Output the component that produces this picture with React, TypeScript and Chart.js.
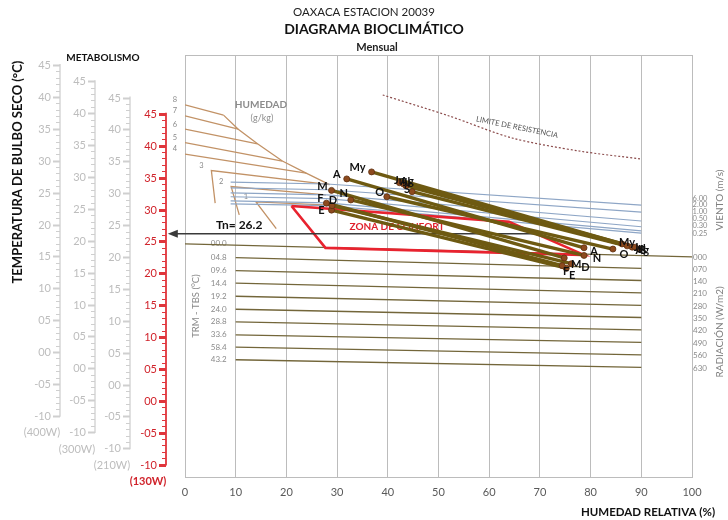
import React, { useEffect, useRef } from 'react';
import { Chart, registerables } from 'chart.js';
Chart.register(...registerables);

// ---------- DATA ----------
const MONTHS = ['E', 'F', 'M', 'A', 'My', 'Jn', 'Jl', 'Ag', 'S', 'O', 'N', 'D'];
const T_MAX = [29.9, 31.0, 33.0, 34.8, 35.9, 34.2, 34.0, 33.7, 32.8, 32.0, 31.5, 30.6];
const RH_MIN = [28.9, 27.9, 28.9, 31.9, 36.8, 42.3, 43.1, 43.6, 44.8, 39.8, 32.7, 29.0];
const T_MIN = [20.8, 21.2, 22.4, 24.0, 24.6, 24.3, 24.1, 24.1, 23.8, 23.8, 22.8, 21.5];
const RH_MAX = [75.2, 74.4, 74.8, 78.7, 86.2, 87.2, 88.2, 88.8, 89.6, 84.4, 78.7, 76.2];
const TN = 26.2;
const TN_START_RH = -2.4;
const TN_END_RH = 70;

const RH_TICK_STEP = 10;

// humidity (g/kg) lines: polylines in (RH %, T °C)
const HUM_LABELS = ['8', '7', '6', '5', '4', '3', '2', '1'];
const HUM_RH = [
  [0, 7.6], [0, 10.5], [0, 14.3], [0, 19.2], [0, 23.9],
  [5.95, 5.2, 28.5], [10.7, 9.1, 27.8], [18.0, 14.0, 28.5],
];
const HUM_T = [
  [46.4, 44.8], [44.7, 42.6], [42.6, 40.3], [40.5, 37.6], [38.7, 35.7],
  [31.0, 36.1, 33.9], [29.15, 33.6, 32.3], [27.0, 31.2, 30.7],
];
const ENV_RH = [7.6, 10.5, 14.3, 19.2, 23.9, 28.5];
const ENV_T = [44.8, 42.6, 40.3, 37.6, 35.7, 33.9];

// wind lines (m/s)
const WIND_LABELS = ['6.00', '2.00', '1.00', '0.50', '0.30', '0.25'];
const WIND_LABEL_T = [31.76, 30.72, 29.62, 28.53, 27.43, 26.18];
const WIND_RH = [9, 28, 90];
const WIND_T = [
  [34.3, 34.0, 30.7],
  [33.4, 33.1, 29.6],
  [32.6, 32.3, 28.2],
  [32.0, 31.7, 27.3],
  [31.35, 31.05, 26.65],
  [30.9, 30.6, 26.3],
];

// radiation lines (TRM - TBS, W/m2)
const RAD_LEFT_LABELS = ['00.0', '04.8', '09.6', '14.4', '19.2', '24.0', '28.8', '33.6', '58.4', '43.2'];
const RAD_RIGHT_LABELS = ['000', '070', '140', '210', '280', '350', '420', '490', '560', '630'];
const RAD_START_RH = [0, 10, 10, 10, 10, 10, 10, 10, 10, 10];
const RAD_END_RH = [100, 90, 90, 90, 90, 90, 90, 90, 90, 90];
const RAD_START_T = [24.61, 22.46, 20.42, 18.45, 16.41, 14.37, 12.38, 10.34, 8.42, 6.43];
const RAD_END_T = [22.57, 20.77, 18.86, 16.93, 14.97, 13.06, 11.13, 9.17, 7.21, 5.25];

// comfort zone polygon
const COMFORT_RH = [21.0, 63.9, 78.7, 27.7, 21.0];
const COMFORT_T = [30.56, 28.06, 22.88, 23.98, 30.56];

// limit of resistance (dotted)
const LIMIT_RH = [39.0, 52.1, 64.5, 77.7, 89.8];
const LIMIT_T = [47.96, 44.67, 41.22, 39.18, 37.93];

// metabolism thermometer scales
const METAB_LABELS = ['(400W)', '(300W)', '(210W)', '(130W)'];
const METAB_SHIFT = [7.65, 5.1, 2.55, 0];
const THERMO_MIN = -10;
const THERMO_MAX = 45;

// ---------- STYLE / LAYOUT ----------
const FONT = "Lato, 'Open Sans', 'DejaVu Sans', sans-serif";
const GRID = '#bcbcbc';
const AXIS_X = [60, 95, 130, 166];
const LEFT_OFF = [[-10, 0], [-6, -5], [-9, -4], [-10, -4], [-14, -4], [0, -2], [3, -2], [1, -4], [-5, -2], [-7, -4], [-7, -6], [1, -5]];
const RIGHT_OFF = [[6, 7], [4, 6], [12, 6], [10, 4], [5, -1], [12, 2], [10, 2], [7, 3], [4, 1], [11, 5], [13, 3], [14, 4]];

function txt(ctx: any, s: string, x: number, y: number, font: string, color: string, align = 'center', rot = 0) {
  ctx.save();
  ctx.translate(x, y);
  if (rot) ctx.rotate(rot);
  ctx.font = font;
  ctx.fillStyle = color;
  ctx.textAlign = align;
  ctx.textBaseline = 'middle';
  ctx.fillText(s, 0, 0);
  ctx.restore();
}

function pad2(v: number) {
  const a = Math.abs(v);
  return (v < 0 ? '-' : '') + (a < 10 ? '0' + a : String(a));
}

function drawThermo(ctx: any, ys: any, ax: number, shift: number, red: boolean, label: string) {
  const lineC = red ? '#e0353b' : '#cfcfcf';
  const textC = red ? '#d0232b' : '#bdbdbd';
  const top = ys.getPixelForValue(THERMO_MAX + shift);
  const bot = ys.getPixelForValue(THERMO_MIN + shift);
  ctx.save();
  ctx.strokeStyle = lineC;
  ctx.lineWidth = red ? 1.8 : 1.3;
  ctx.beginPath();
  ctx.moveTo(ax, top - 1);
  ctx.lineTo(ax, bot + 1);
  ctx.stroke();
  for (let t = THERMO_MIN; t <= THERMO_MAX; t++) {
    const py = Math.round(ys.getPixelForValue(t + shift)) + 0.5;
    const major = t % 5 === 0;
    ctx.lineWidth = major ? (red ? 3 : 2) : 1;
    ctx.beginPath();
    ctx.moveTo(ax - (major ? 7 : 4), py);
    ctx.lineTo(ax, py);
    ctx.stroke();
    if (major) txt(ctx, pad2(t), ax - 9, py, `11px ${FONT}`, textC, 'right');
  }
  txt(ctx, label, ax - 18, bot + 17, `${red ? 'bold ' : ''}11px ${FONT}`, textC, 'center');
  ctx.restore();
}

const decorPlugin = {
  id: 'decor',
  beforeDatasetsDraw(chart: any) {
    const { ctx, chartArea: ca, scales } = chart;
    const x = scales.x;
    const y = scales.y;
    ctx.save();
    // top frame
    ctx.strokeStyle = GRID;
    ctx.lineWidth = 1;
    ctx.beginPath();
    ctx.moveTo(ca.left, Math.round(ca.top) + 0.5);
    ctx.lineTo(ca.right, Math.round(ca.top) + 0.5);
    ctx.stroke();

    // titles
    txt(ctx, 'OAXACA ESTACION 20039', 364, 12, `11.5px ${FONT}`, '#222');
    txt(ctx, 'DIAGRAMA BIOCLIMÁTICO', 374, 29, `bold 14px ${FONT}`, '#111');
    txt(ctx, 'Mensual', 377, 47, `bold 11px ${FONT}`, '#222');
    txt(ctx, 'TEMPERATURA DE BULBO SECO (°C)', 18, 172, `bold 13px ${FONT}`, '#111', 'center', -Math.PI / 2);
    txt(ctx, 'METABOLISMO', 103, 58, `bold 10px ${FONT}`, '#111');
    txt(ctx, 'HUMEDAD RELATIVA (%)', 648, 512, `bold 11.5px ${FONT}`, '#111');

    // thermometers
    METAB_SHIFT.forEach((s, i) => drawThermo(ctx, y, AXIS_X[i], s, i === 3, METAB_LABELS[i]));

    // humidity labels
    HUM_LABELS.forEach((lab, i) => {
      let k = 0;
      HUM_RH[i].forEach((v, j) => { if (v < HUM_RH[i][k]) k = j; });
      const px = x.getPixelForValue(HUM_RH[i][k]);
      const py = y.getPixelForValue(HUM_T[i][k]);
      txt(ctx, lab, px - 10, py - 5, `7.5px ${FONT}`, '#8a8a8a');
    });
    txt(ctx, 'HUMEDAD', 261, 105, `bold 10px ${FONT}`, '#8c8c8c');
    txt(ctx, '(g/kg)', 262, 118, `9px ${FONT}`, '#8c8c8c');

    // wind labels
    WIND_LABELS.forEach((lab, i) => {
      txt(ctx, lab, 700, y.getPixelForValue(WIND_LABEL_T[i]), `7.5px ${FONT}`, '#8a8a8a');
    });
    txt(ctx, 'VIENTO (m/s)', 720, 200, `10px ${FONT}`, '#7f7f7f', 'center', -Math.PI / 2);

    // radiation labels
    RAD_LEFT_LABELS.forEach((lab, i) => {
      const py = y.getPixelForValue(RAD_START_T[i]);
      txt(ctx, lab, x.getPixelForValue(10) - 17, py, `8px ${FONT}`, '#8a8a8a');
    });
    RAD_RIGHT_LABELS.forEach((lab, i) => {
      txt(ctx, lab, 700, y.getPixelForValue(RAD_END_T[i]) + 1, `8px ${FONT}`, '#8a8a8a');
    });
    txt(ctx, 'RADIACIÓN (W/m2)', 720, 332, `10px ${FONT}`, '#7f7f7f', 'center', -Math.PI / 2);
    txt(ctx, 'TRM - TBS (°C)', 196, 306, `9.5px ${FONT}`, '#8a8a8a', 'center', -Math.PI / 2);

    // limit label
    txt(ctx, 'LIMITE DE RESISTENCIA', x.getPixelForValue(65.5), y.getPixelForValue(42.9), `7.5px ${FONT}`, '#555', 'center', 0.2);

    // comfort zone label
    txt(ctx, 'ZONA DE CONFORT', 397, 227, `bold 10px ${FONT}`, '#e0202c');
    // Tn label
    txt(ctx, `Tn= ${TN}`, 216, 225, `bold 12px ${FONT}`, '#111', 'left');
    ctx.restore();
  },
  afterDatasetsDraw(chart: any) {
    const { ctx, scales } = chart;
    const x = scales.x;
    const y = scales.y;
    // Tn arrow head
    const ax = x.getPixelForValue(TN_START_RH);
    const ay = y.getPixelForValue(TN);
    ctx.save();
    ctx.fillStyle = '#3a3a3a';
    ctx.beginPath();
    ctx.moveTo(ax - 5, ay);
    ctx.lineTo(ax + 5, ay - 4);
    ctx.lineTo(ax + 5, ay + 4);
    ctx.closePath();
    ctx.fill();
    ctx.restore();
    MONTHS.forEach((m, i) => {
      txt(ctx, m, x.getPixelForValue(RH_MIN[i]) + LEFT_OFF[i][0], y.getPixelForValue(T_MAX[i]) + LEFT_OFF[i][1], `bold 11px ${FONT}`, '#111');
      txt(ctx, m, x.getPixelForValue(RH_MAX[i]) + RIGHT_OFF[i][0], y.getPixelForValue(T_MIN[i]) + RIGHT_OFF[i][1], `bold 11px ${FONT}`, '#111');
    });
  },
};

function poly(rh: number[], t: number[]) {
  return rh.map((v, i) => ({ x: v, y: t[i] }));
}

function lineDs(data: any[], color: string, width: number, order: number, extra: any = {}) {
  return {
    data,
    showLine: true,
    borderColor: color,
    backgroundColor: color,
    borderWidth: width,
    pointRadius: 0,
    fill: false,
    tension: 0,
    order,
    ...extra,
  };
}

export default function App() {
  const ref = useRef<HTMLCanvasElement>(null);
  useEffect(() => {
    if (!ref.current) return;
    const datasets: any[] = [];
    HUM_RH.forEach((rh, i) => datasets.push(lineDs(poly(rh, HUM_T[i]), '#c29266', 1.3, 9)));
    datasets.push(lineDs(poly(ENV_RH, ENV_T), '#c29266', 1.3, 9));
    WIND_T.forEach((t) => datasets.push(lineDs(poly(WIND_RH, t), '#8ea6c6', 1.2, 8)));
    RAD_START_T.forEach((t, i) =>
      datasets.push(lineDs(poly([RAD_START_RH[i], RAD_END_RH[i]], [t, RAD_END_T[i]]), '#73663a', 1.4, 8)));
    datasets.push(lineDs(poly(LIMIT_RH, LIMIT_T), '#8a4a4a', 1.2, 8, { borderDash: [2, 2], tension: 0.3 }));
    datasets.push(lineDs(poly(COMFORT_RH, COMFORT_T), '#e8232f', 2.6, 6));
    datasets.push(lineDs([{ x: TN_START_RH, y: TN }, { x: TN_END_RH, y: TN }], '#3a3a3a', 1.5, 5, { clip: false }));
    MONTHS.forEach((_, i) =>
      datasets.push(lineDs([{ x: RH_MIN[i], y: T_MAX[i] }, { x: RH_MAX[i], y: T_MIN[i] }], '#6e5a12', 3.4, 2)));
    const pts: any[] = [];
    MONTHS.forEach((_, i) => {
      pts.push({ x: RH_MIN[i], y: T_MAX[i] });
      pts.push({ x: RH_MAX[i], y: T_MIN[i] });
    });
    datasets.push({
      data: pts,
      showLine: false,
      pointRadius: 3,
      pointBackgroundColor: '#8d4a1e',
      pointBorderColor: '#5e3010',
      pointBorderWidth: 0.8,
      order: 1,
    });

    const chart = new Chart(ref.current, {
      type: 'scatter',
      data: { datasets },
      options: {
        animation: false,
        responsive: false,
        devicePixelRatio: 1,
        layout: { padding: { left: 185, right: 36, top: 55, bottom: 13 } },
        plugins: { legend: { display: false }, tooltip: { enabled: false }, title: { display: false } },
        scales: {
          x: {
            type: 'linear',
            min: 0,
            max: 100,
            ticks: { stepSize: RH_TICK_STEP, color: '#595959', padding: 8, font: { family: FONT, size: 11 } },
            grid: { color: GRID, drawTicks: false },
            border: { color: GRID },
          },
          y: {
            type: 'linear',
            display: false,
            min: -12.07,
            max: 54.23,
          },
        },
      },
      plugins: [decorPlugin],
    } as any);
    return () => chart.destroy();
  }, []);
  return (
    <div style={{ position: 'absolute', left: 0, top: 0, width: 728, height: 520, background: '#fff' }}>
      <canvas ref={ref} width={728} height={520} style={{ width: 728, height: 520 }} />
    </div>
  );
}
